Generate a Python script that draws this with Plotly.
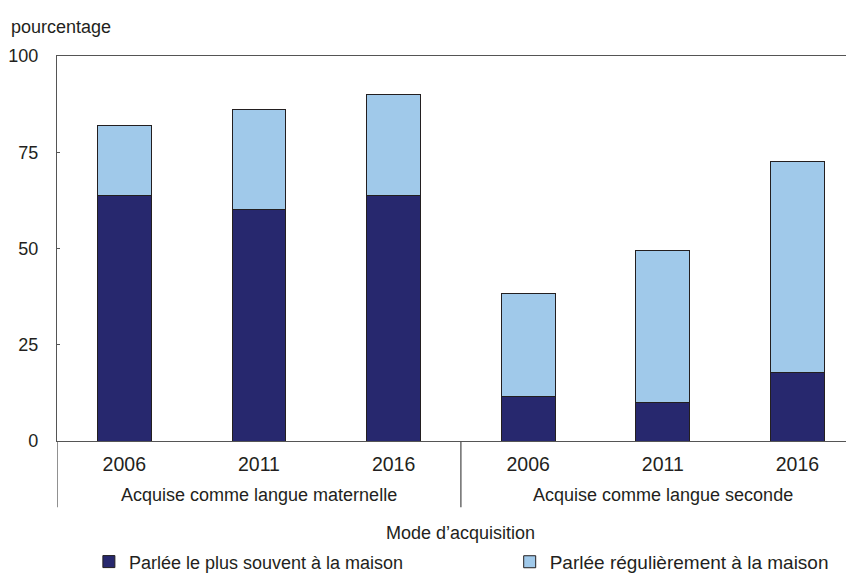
import plotly.graph_objects as go

# data
annees = ["2006", "2011", "2016", "2006", "2011", "2016"]
groupes = ["Acquise comme langue maternelle", "Acquise comme langue seconde"]
plus_souvent = [63.7, 60.2, 63.7, 11.6, 10.1, 17.7]
regulierement = [18.2, 26.0, 26.3, 26.6, 39.4, 54.8]

FONT = "Liberation Sans Narrow, Arial Narrow, Liberation Sans, Arial, sans-serif"
FS = 18
DARK = "#27286e"
LIGHT = "#a0c9ea"
AXIS = "#555555"

pos = list(range(len(annees)))

fig = go.Figure()
fig.add_trace(go.Bar(x=pos, y=plus_souvent, name="Parlée le plus souvent à la maison",
                     marker=dict(color=DARK, line=dict(color="#231f20", width=1)),
                     width=0.4, legend="legend", showlegend=True))
fig.add_trace(go.Bar(x=pos, y=regulierement, name="Parlée régulièrement à la maison",
                     marker=dict(color=LIGHT, line=dict(color="#231f20", width=1)),
                     width=0.4, legend="legend2", showlegend=True))

# page body has an 8px margin, so the figure is 846x567 placed at (8, 8)
fig.update_layout(
    barmode="stack",
    width=846, height=567,
    showlegend=True,
    margin=dict(l=49, r=0, t=48, b=134, autoexpand=False),
    plot_bgcolor="white", paper_bgcolor="white",
    font=dict(family=FONT, size=FS, color="#231f20"),
    legend=dict(orientation="h", x=0.04, y=-0.314, xanchor="left", yanchor="middle",
                font=dict(size=FS)),
    legend2=dict(orientation="h", x=0.568, y=-0.314, xanchor="left", yanchor="middle",
                 font=dict(size=19)),
)

fig.update_xaxes(range=[-0.5, 5.42], tickvals=pos, ticktext=annees, ticks="",
                 tickfont=dict(size=19.5),
                 showline=True, linecolor=AXIS, linewidth=1.3, mirror=True,
                 showgrid=False, zeroline=False, ticklabelstandoff=5)
fig.update_yaxes(range=[0, 100], tickvals=[0, 25, 50, 75, 100], ticks="inside", ticklen=3,
                 tickfont=dict(size=18),
                 tickcolor=AXIS, showline=True, linecolor=AXIS, linewidth=1.3,
                 showgrid=False, zeroline=False, ticklabelstandoff=14)

# separators under the axis between the groups
for xs in [-0.5, 2.5, 5.5]:
    fig.add_shape(type="line", xref="x", yref="paper", x0=xs, x1=xs, y0=0, y1=-0.172,
                  line=dict(color=AXIS, width=1.3))

# group labels
for i, g in enumerate(groupes):
    fig.add_annotation(x=1 + 3 * i, y=0, xref="x", yref="paper", yshift=-54,
                       text=g, showarrow=False, yanchor="middle", font=dict(size=FS))

fig.add_annotation(x=2.5, y=0, xref="x", yref="paper", yshift=-92,
                   text="Mode d’acquisition", showarrow=False, yanchor="middle",
                   font=dict(size=FS))

fig.add_annotation(x=(9 - 57) / 797, y=1 + (56 - 27) / 385, xref="paper", yref="paper",
                   text="pourcentage", showarrow=False, xanchor="left", yanchor="middle",
                   font=dict(size=FS))

fig.write_html("out.html")
